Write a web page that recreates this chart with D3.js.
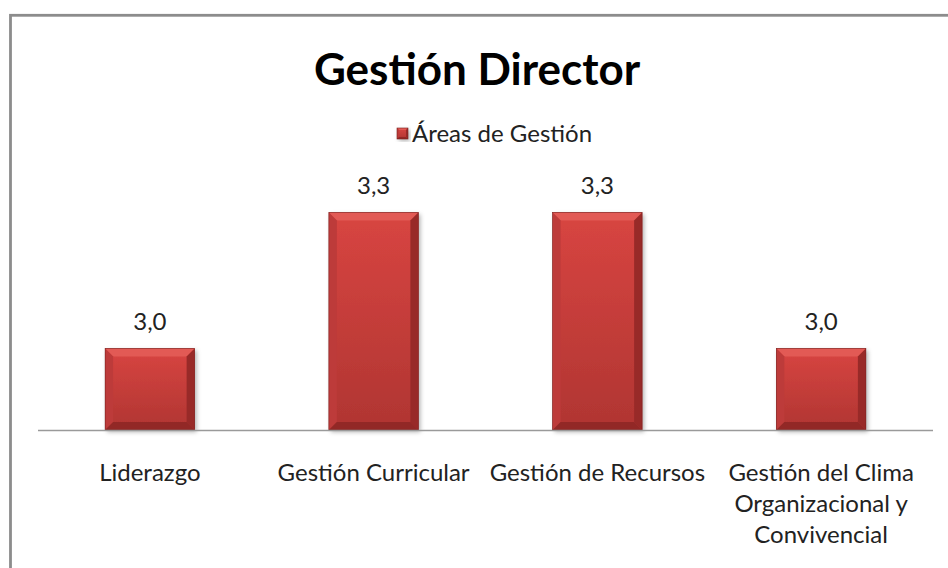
<!DOCTYPE html>
<html>
<head>
<meta charset="utf-8">
<script src="https://cdn.jsdelivr.net/npm/d3@7"></script>
<style>
  html, body { margin: 0; padding: 0; background: #fff; }
  svg { display: block; font-family: Lato, "Open Sans", sans-serif; }
</style>
</head>
<body>
<svg id="chart" width="948" height="568"></svg>
<script>
"use strict";

// data
const chartTitle = "Gestión Director";
const seriesName = "Áreas de Gestión";
const categories = ["Liderazgo", "Gestión Curricular", "Gestión de Recursos",
    "Gestión del Clima\nOrganizacional y\nConvivencial"];
const values = [2.98, 3.28, 3.28, 2.98];
const yDomain = [2.8, 3.4];

const width = 948, height = 568;
const svg = d3.select('#chart');

// gradients / filters for the bevelled bars
const defs = svg.append('defs');
const face = defs.append('linearGradient').attr('id', 'face')
    .attr('x1', 0).attr('y1', 0).attr('x2', 0).attr('y2', 1);
face.append('stop').attr('offset', '0%').attr('stop-color', '#d84541');
face.append('stop').attr('offset', '100%').attr('stop-color', '#b03532');

const shadow = defs.append('filter').attr('id', 'shadow')
    .attr('x', '-20%').attr('y', '-20%').attr('width', '140%').attr('height', '140%');
shadow.append('feDropShadow')
    .attr('dx', 2).attr('dy', 2).attr('stdDeviation', 2)
    .attr('flood-color', '#000').attr('flood-opacity', 0.3);

// outer chart border (right / bottom edges fall outside the picture)
svg.append('rect')
    .attr('x', 10.5).attr('y', 15.3)
    .attr('width', 960).attr('height', 600)
    .attr('fill', 'none')
    .attr('stroke', '#8c8c8c')
    .attr('stroke-width', 2.8);

// title
svg.append('text')
    .attr('x', 477).attr('y', 85)
    .attr('text-anchor', 'middle')
    .attr('font-size', 44).attr('font-weight', 'bold')
    .attr('fill', '#000')
    .text(chartTitle);

const x = d3.scaleBand()
    .domain(categories)
    .range([38, 933])
    .paddingInner(0.6)
    .paddingOuter(0.3);

const y = d3.scaleLinear()
    .domain(yDomain)
    .range([430, 158]);

function bevelBar(g, x0, y0, w, h, b) {
    g.append('rect')
        .attr('x', x0).attr('y', y0).attr('width', w).attr('height', h)
        .attr('fill', 'url(#face)')
        .attr('filter', 'url(#shadow)');
    const x1 = x0 + w, y1 = y0 + h;
    const poly = (pts, fill) => g.append('polygon')
        .attr('points', pts.map(p => p.join(',')).join(' '))
        .attr('fill', fill);
    poly([[x0, y0], [x1, y0], [x1 - b, y0 + b], [x0 + b, y0 + b]], '#e25a55');
    poly([[x0, y0], [x0 + b, y0 + b], [x0 + b, y1 - b], [x0, y1]], '#bd3b3a');
    poly([[x1, y0], [x1, y1], [x1 - b, y1 - b], [x1 - b, y0 + b]], '#982a28');
    poly([[x0, y1], [x0 + b, y1 - b], [x1 - b, y1 - b], [x1, y1]], '#922826');
    g.append('rect')
        .attr('x', x0).attr('y', y0).attr('width', w).attr('height', h)
        .attr('fill', 'none').attr('stroke', '#7a1f1d').attr('stroke-width', 0.6);
}

// legend
const legend = svg.append('g');
bevelBar(legend, 397, 128, 11, 11, 2);
legend.append('text')
    .attr('x', 412).attr('y', 142)
    .attr('font-size', 24).attr('fill', '#222')
    .text(seriesName);

// bars
const bars = svg.append('g');
categories.forEach((c, i) => {
    const g = bars.append('g');
    bevelBar(g, x(c), y(values[i]), x.bandwidth(), y(yDomain[0]) - y(values[i]), 8);
});

// axis line
svg.append('line')
    .attr('x1', 38).attr('x2', 933)
    .attr('y1', y(yDomain[0]) + 0.5).attr('y2', y(yDomain[0]) + 0.5)
    .attr('stroke', '#9a9a9a').attr('stroke-width', 1.5);

// value labels
svg.append('g').selectAll('text').data(values)
    .enter()
    .append('text')
    .attr('x', (d, i) => x(categories[i]) + x.bandwidth() / 2)
    .attr('y', d => y(d) - 18)
    .attr('text-anchor', 'middle')
    .attr('font-size', 24).attr('fill', '#222')
    .text(d => d3.format('.1f')(d).replace('.', ','));

// category labels, wrapped like the original
const catG = svg.append('g');
categories.forEach(c => {
    const t = catG.append('text')
        .attr('x', x(c) + x.bandwidth() / 2)
        .attr('y', 481)
        .attr('text-anchor', 'middle')
        .attr('font-size', 24).attr('fill', '#222');
    c.split('\n').forEach((line, j) => {
        t.append('tspan')
            .attr('x', x(c) + x.bandwidth() / 2)
            .attr('dy', j == 0 ? 0 : 31)
            .text(line);
    });
});
</script>
</body>
</html>
